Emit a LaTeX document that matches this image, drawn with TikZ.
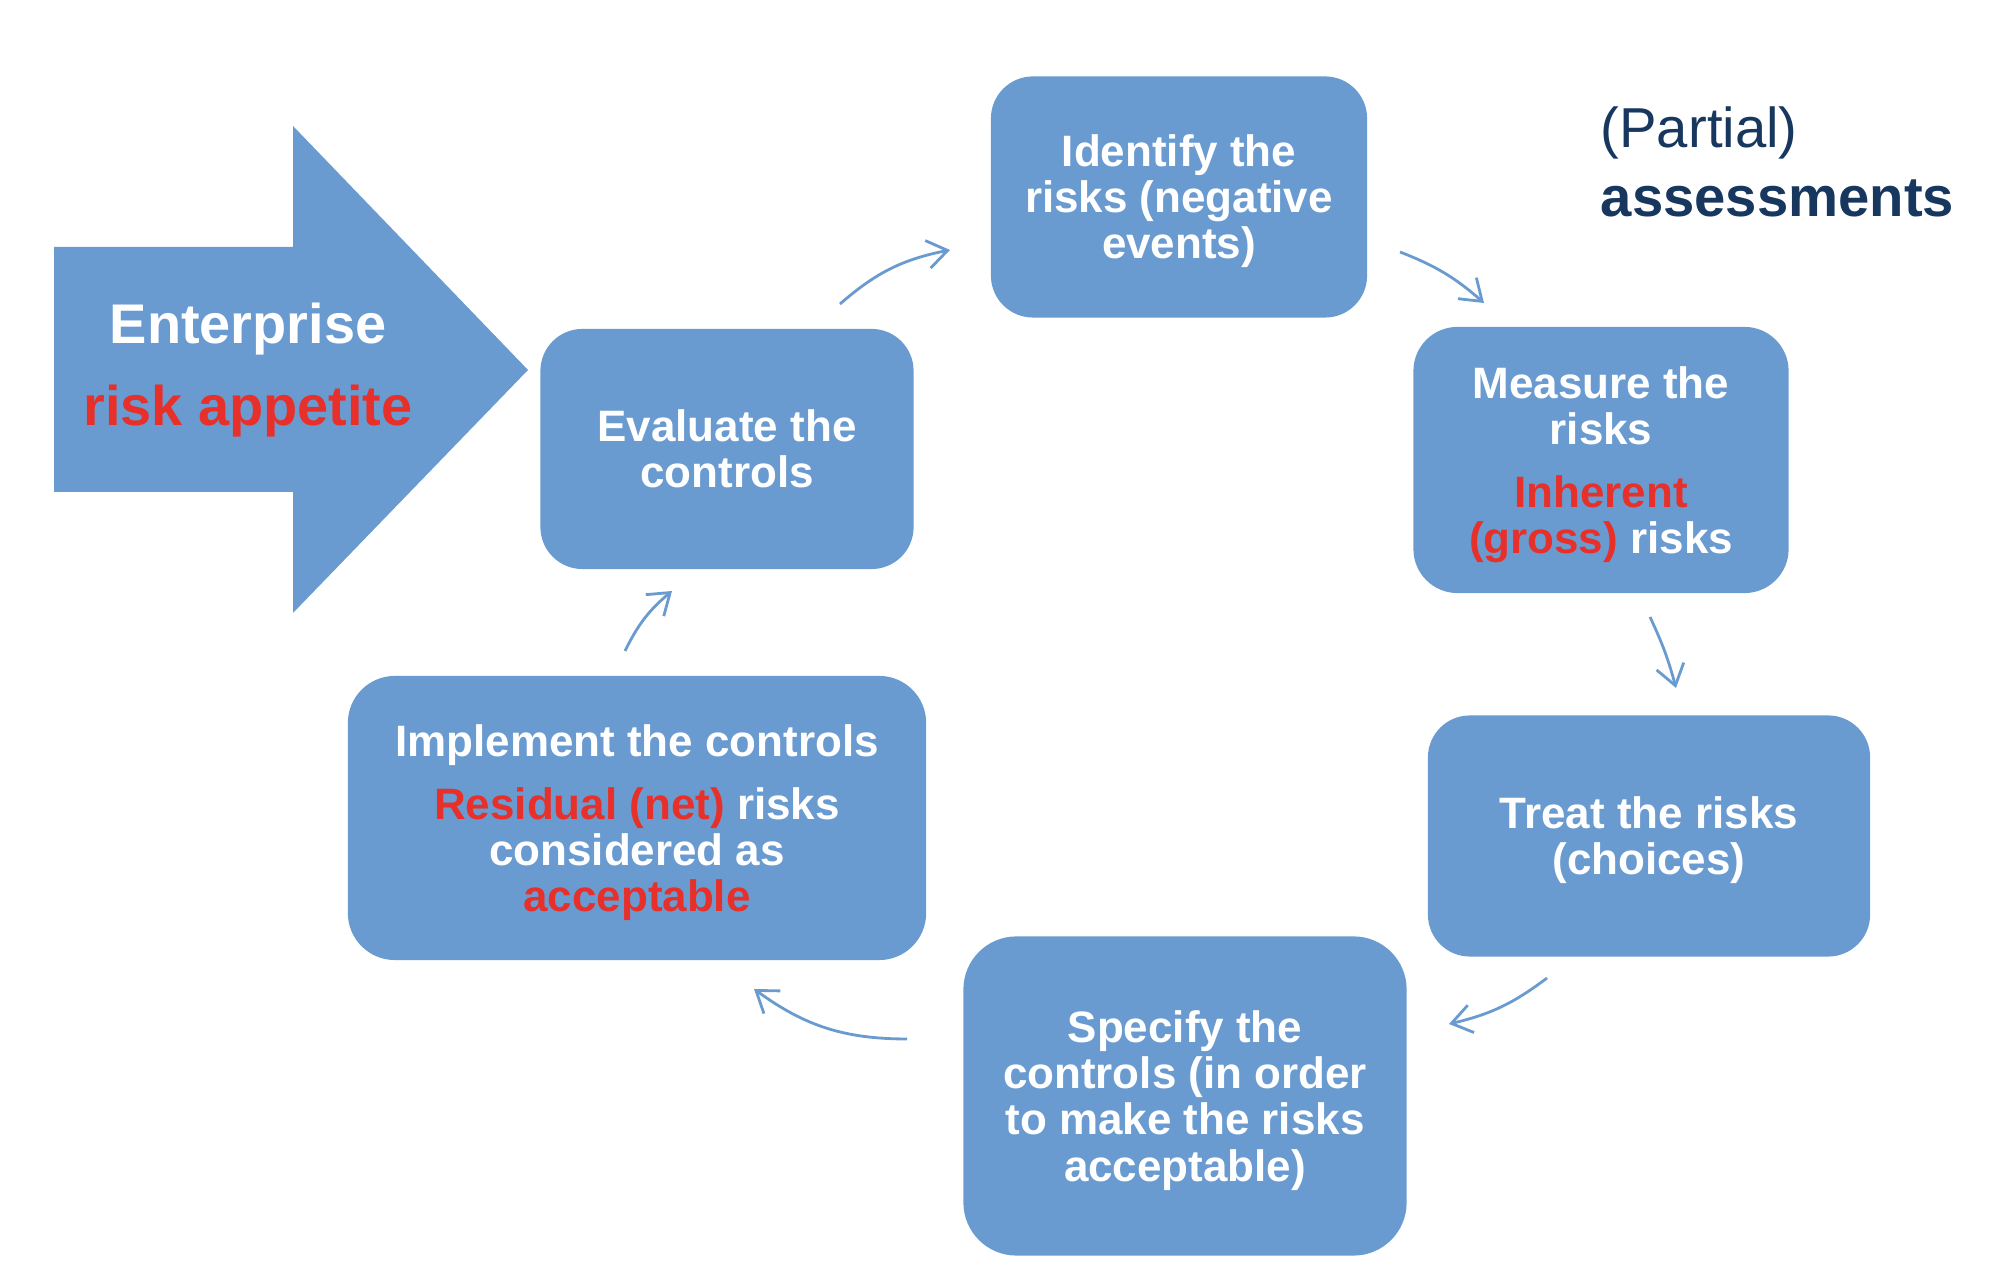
\documentclass[tikz,border=0pt]{standalone}
\usepackage{fontspec}
\setmainfont{Liberation Sans}
\usepackage{xcolor}
\usetikzlibrary{arrows.meta, positioning}

\definecolor{boxblue}{HTML}{6A9BD0}
\definecolor{riskred}{HTML}{E8302A}
\definecolor{navy}{HTML}{17375E}

\tikzset{
    stepbox/.style={rectangle, rounded corners=0.42cm, fill=boxblue, text=white,
        font=\bfseries\fontsize{12.5}{13.1}\selectfont, align=center, inner sep=0pt,
        text depth=0pt},
    flow/.style={draw=boxblue, line width=0.8pt,
        -{Straight Barb[length=2mm, width=2.8mm, line width=0.8pt]}},
}
\newcommand{\hot}[1]{\textcolor{riskred}{#1}}

\begin{document}
\begin{tikzpicture}[x=0.01cm, y=0.01cm]
        \useasboundingbox (0, 0) rectangle (2000, 1288);

        % big arrow on the left
        \fill[boxblue] (54, 796) -- (54, 1041) -- (293, 1041) -- (293, 1162)
            -- (528, 918) -- (293, 675) -- (293, 796) -- cycle;
        \node[font=\bfseries\fontsize{15.9}{23.4}\selectfont, align=center, text=white] (appetite) at (248, 918)
            {Enterprise\\ \hot{risk appetite}};

        \node[font=\fontsize{16}{19.4}\selectfont, align=left, text=navy, anchor=west, inner sep=0pt] (partial) at (1600, 1126)
            {(Partial)\\ \textbf{assessments}};

        % the cycle
        \node[stepbox, minimum width=3.76cm, minimum height=2.41cm] (identify) at (1179, 1091)
            {Identify the\\ risks (negative\\ events)};
        \node[stepbox, minimum width=3.75cm, minimum height=2.66cm, rounded corners=0.44cm] (measure) at (1601, 828)
            {Measure the\\ risks\\[4.7pt] \hot{Inherent}\\ \hot{(gross)} risks};
        \node[stepbox, minimum width=4.42cm, minimum height=2.41cm] (treat) at (1649, 452)
            {Treat the risks\\ (choices)};
        \node[stepbox, minimum width=4.43cm, minimum height=3.19cm, rounded corners=0.53cm] (specify) at (1185, 192)
            {Specify the\\ controls (in order\\ to make the risks\\ acceptable)};
        \node[stepbox, minimum width=5.78cm, minimum height=2.84cm, rounded corners=0.47cm] (implement) at (637, 470)
            {Implement the controls\\[4.9pt] \hot{Residual (net)} risks\\ considered as\\ \hot{acceptable}};
        \node[stepbox, minimum width=3.73cm, minimum height=2.40cm] (evaluate) at (727, 839)
            {Evaluate the\\ controls};

        % free ends of the connectors
        \coordinate (e1) at (840, 984);  \coordinate (i1) at (950, 1038);
        \coordinate (i2) at (1400, 1036); \coordinate (m1) at (1484, 985);
        \coordinate (m2) at (1650, 671); \coordinate (t1) at (1676, 600);
        \coordinate (t2) at (1547, 310); \coordinate (s1) at (1449, 264);
        \coordinate (s2) at (907, 249);  \coordinate (p1) at (754, 299);
        \coordinate (p2) at (625, 637);  \coordinate (e2) at (672, 697);

        \draw[flow] (e1) to[bend left=15] (i1);
        \draw[flow] (i2) to[bend left=10] (m1);
        \draw[flow] (m2) to[bend left=5] (t1);
        \draw[flow] (t2) to[bend left=12] (s1);
        \draw[flow] (s2) to[bend left=18] (p1);
        \draw[flow] (p2) to[bend left=12] (e2);
    \end{tikzpicture}
\end{document}
